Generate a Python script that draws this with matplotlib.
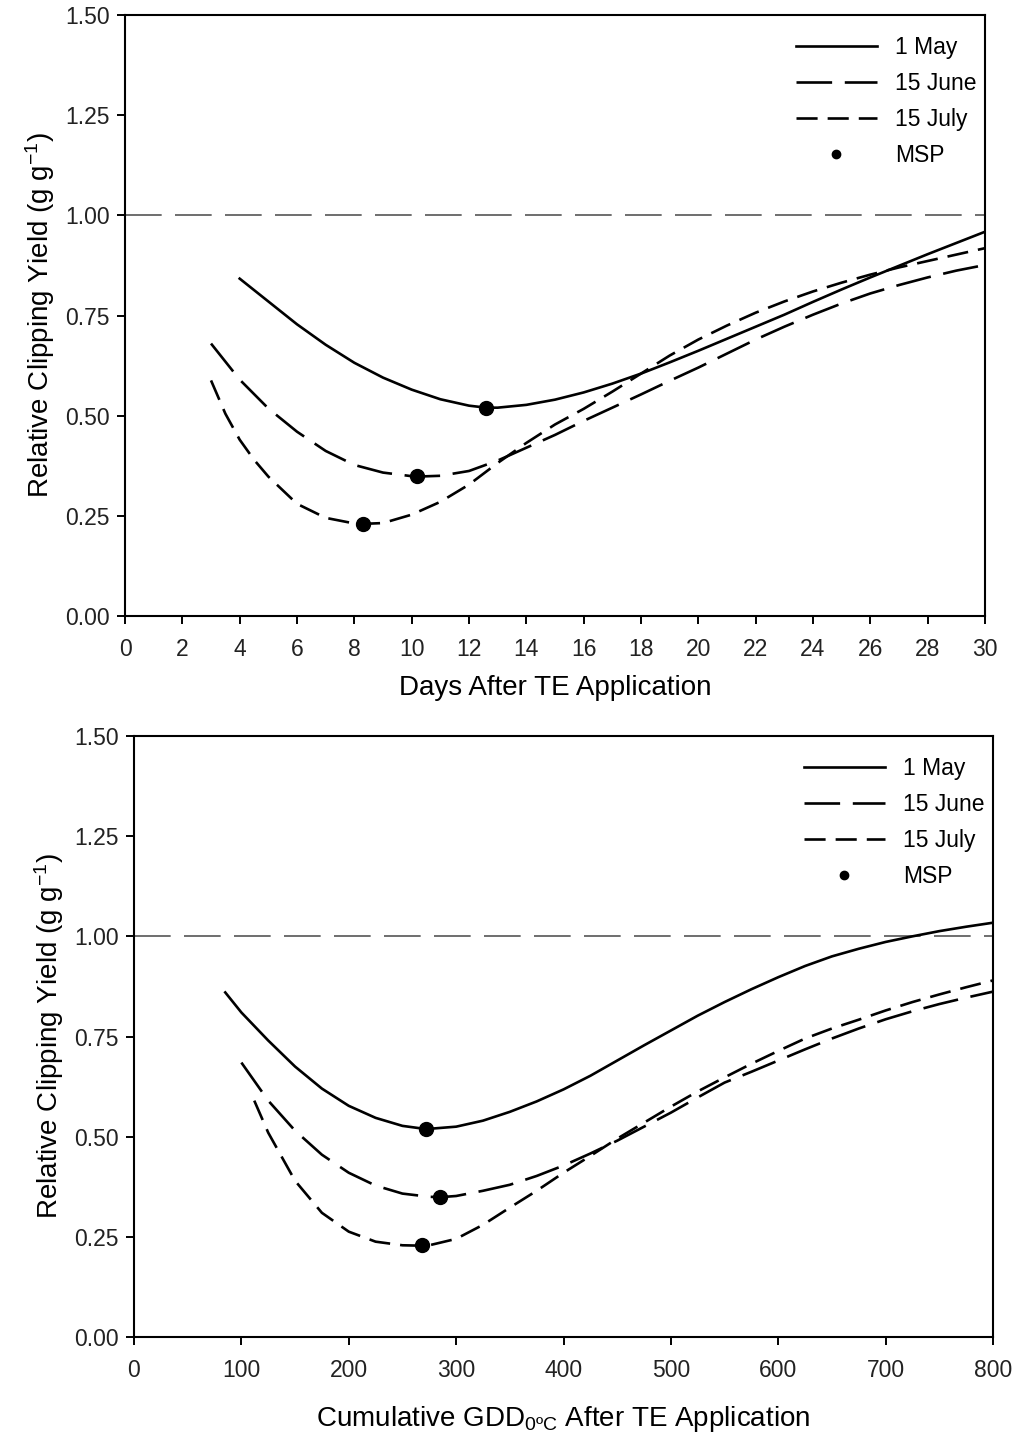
import matplotlib
matplotlib.use("Agg")
import matplotlib.pyplot as plt
from matplotlib.lines import Line2D

plt.rcParams['font.family'] = ['Liberation Sans', 'DejaVu Sans']
plt.rcParams['mathtext.fontset'] = 'custom'
plt.rcParams['mathtext.rm'] = 'Liberation Sans'
plt.rcParams['mathtext.it'] = 'Liberation Sans:italic'
plt.rcParams['mathtext.default'] = 'regular'

series_labels = ["1 May", "15 June", "15 July"]

# ---- Top panel: days after TE application ----
days_may = [4, 5, 6, 7, 8, 9, 10, 11, 12, 12.6, 13, 14, 15, 16, 17, 18, 19, 20,
            21, 22, 23, 24, 25, 26, 27, 28, 29, 30]
rcy_days_may = [0.842, 0.785, 0.728, 0.677, 0.632, 0.595, 0.565, 0.541, 0.525, 0.520,
                0.520, 0.527, 0.540, 0.558, 0.580, 0.605, 0.633, 0.662, 0.692, 0.722,
                0.752, 0.784, 0.815, 0.845, 0.874, 0.903, 0.931, 0.959]

days_june = [3, 4, 5, 6, 7, 8, 9, 10, 10.2, 11, 12, 13, 14, 15, 16, 17, 18, 19, 20,
             21, 22, 23, 24, 25, 26, 27, 28, 29, 30]
rcy_days_june = [0.680, 0.590, 0.518, 0.460, 0.412, 0.377, 0.358, 0.349, 0.348, 0.350,
                 0.362, 0.388, 0.420, 0.452, 0.487, 0.520, 0.553, 0.587, 0.620, 0.655,
                 0.690, 0.722, 0.752, 0.780, 0.805, 0.826, 0.845, 0.862, 0.876]

days_july = [3, 3.5, 4, 4.5, 5, 6, 7, 8, 8.3, 9, 10, 11, 12, 13, 14, 15, 16, 17, 18,
             19, 20, 21, 22, 23, 24, 25, 26, 27, 28, 29, 30]
rcy_days_july = [0.588, 0.505, 0.440, 0.390, 0.348, 0.280, 0.245, 0.231, 0.230, 0.232,
                 0.253, 0.285, 0.328, 0.382, 0.432, 0.478, 0.517, 0.560, 0.605, 0.650,
                 0.690, 0.725, 0.757, 0.785, 0.810, 0.832, 0.852, 0.870, 0.886, 0.902,
                 0.918]

msp_days = [12.6, 10.2, 8.3]
msp_days_rcy = [0.52, 0.35, 0.23]

# ---- Bottom panel: cumulative GDD ----
gdd_may = [85, 100, 125, 150, 175, 200, 225, 250, 272, 300, 325, 350, 375, 400, 425,
           450, 475, 500, 525, 550, 575, 600, 625, 650, 675, 700, 725, 750, 775, 800]
rcy_gdd_may = [0.860, 0.810, 0.740, 0.675, 0.620, 0.577, 0.547, 0.527, 0.519, 0.525,
               0.540, 0.562, 0.588, 0.618, 0.652, 0.690, 0.728, 0.765, 0.802, 0.836,
               0.868, 0.898, 0.926, 0.950, 0.969, 0.986, 1.000, 1.013, 1.024, 1.034]

gdd_june = [100, 125, 150, 175, 200, 225, 250, 275, 285, 300, 325, 350, 375, 400, 425,
            450, 475, 500, 525, 550, 575, 600, 625, 650, 675, 700, 725, 750, 775, 800]
rcy_gdd_june = [0.685, 0.590, 0.515, 0.455, 0.410, 0.378, 0.358, 0.350, 0.349, 0.352,
                0.365, 0.380, 0.402, 0.428, 0.458, 0.490, 0.525, 0.560, 0.598, 0.635,
                0.662, 0.690, 0.718, 0.745, 0.770, 0.793, 0.813, 0.831, 0.847, 0.862]

gdd_july = [112, 125, 150, 175, 200, 225, 250, 268, 275, 300, 325, 350, 375, 400, 425,
            450, 475, 500, 525, 550, 575, 600, 625, 650, 675, 700, 725, 750, 775, 800]
rcy_gdd_july = [0.590, 0.510, 0.390, 0.310, 0.263, 0.238, 0.229, 0.228, 0.229, 0.245,
                0.280, 0.323, 0.365, 0.410, 0.452, 0.495, 0.535, 0.575, 0.613, 0.648,
                0.682, 0.714, 0.745, 0.770, 0.792, 0.815, 0.836, 0.855, 0.873, 0.890]

msp_gdd = [272, 285, 268]
msp_gdd_rcy = [0.52, 0.35, 0.23]

y_ticks = [0.00, 0.25, 0.50, 0.75, 1.00, 1.25, 1.50]
x_ticks_days = list(range(0, 31, 2))
x_ticks_gdd = list(range(0, 801, 100))

LW = 1.9
styles = [
    dict(linestyle='-'),
    dict(linestyle=(0, (13.5, 4.8))),
    dict(linestyle=(0, (8.0, 3.8))),
]

fig = plt.figure(figsize=(10.19, 14.4), dpi=100)
ax1 = fig.add_axes([0.1227, 0.5722, 0.9666 - 0.1227, 0.9896 - 0.5722])
ax2 = fig.add_axes([0.1315, 0.0715, 0.9745 - 0.1315, 0.4889 - 0.0715])


def draw(ax, xs, ys, mx, my, xlim, xticks, xlabel, xlabelpad):
    ax.axhline(1.0, color='#555555', lw=1.2, linestyle=(0, (22, 8)), zorder=1)
    for x, y, st in zip(xs, ys, styles):
        ax.plot(x, y, color='black', lw=LW, zorder=2, **st)
    ax.plot(mx, my, 'o', color='black', markersize=10, linestyle='none', zorder=3)
    ax.set_xlim(*xlim)
    ax.set_ylim(0, 1.5)
    ax.set_xticks(xticks)
    ax.set_xticklabels([str(t) for t in xticks])
    ax.set_yticks(y_ticks)
    ax.set_yticklabels([f"{t:.2f}" for t in y_ticks])
    ax.tick_params(direction='out', length=6, width=1.4, labelsize=16.5, pad=5,
                   labelcolor='#222222')
    ax.tick_params(axis='x', pad=10)
    for s in ax.spines.values():
        s.set_linewidth(1.5)
    ax.set_ylabel("Relative Clipping Yield (g g$^{-1}$)", fontsize=20, labelpad=6)
    ax.set_xlabel(xlabel, fontsize=20, labelpad=xlabelpad)
    handles = [Line2D([], [], color='black', lw=LW, **st) for st in styles]
    handles.append(Line2D([], [], marker='o', color='black', markersize=6, linestyle='none'))
    ax.legend(handles, series_labels + ["MSP"], loc='upper right', frameon=False,
              fontsize=16.5, handlelength=3.5, handletextpad=0.8, labelspacing=0.58,
              bbox_to_anchor=(1.014, 1.0))


draw(ax1, [days_may, days_june, days_july],
     [rcy_days_may, rcy_days_june, rcy_days_july],
     msp_days, msp_days_rcy, (0, 30), x_ticks_days, "Days After TE Application", 10)
draw(ax2, [gdd_may, gdd_june, gdd_july],
     [rcy_gdd_may, rcy_gdd_june, rcy_gdd_july],
     msp_gdd, msp_gdd_rcy, (0, 800), x_ticks_gdd,
     "Cumulative GDD$_{0\u00baC}$ After TE Application", 16)

fig.savefig("out.png", dpi=100)
